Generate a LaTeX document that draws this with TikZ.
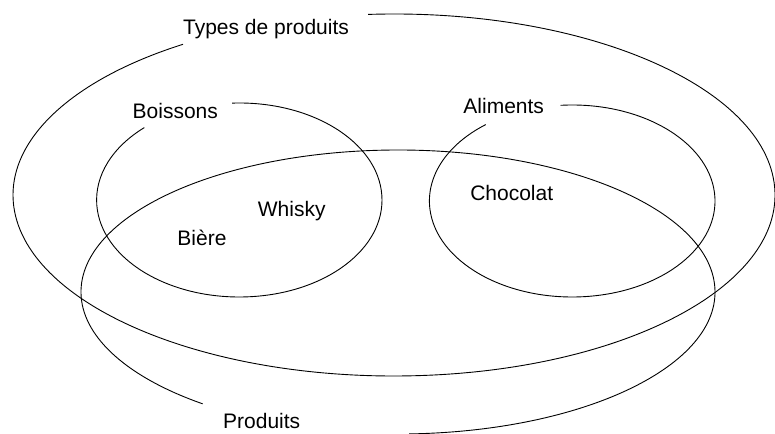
\documentclass[tikz,border=0pt]{standalone}
\usepackage{fontspec}
\setmainfont{Liberation Sans}
\begin{document}
\begin{tikzpicture}[x=1pt,y=1pt,
  setline/.style={draw=black, line width=0.9pt},
  setlabel/.style={inner sep=0pt, anchor=base, font=\fontsize{21}{25}\selectfont}]
\useasboundingbox (0,0) rectangle (775,433);
\fill[white] (0,0) rectangle (775,433);
\clip (0,0) rectangle (775,433);

% Types de produits: open ellipse, gap under its label
\draw[setline] ([shift={(394,238)}]93.91:381 and 181)
  arc[start angle=93.91, end angle=-236.37, x radius=381, y radius=181];

% Boissons
\draw[setline] ([shift={(239.3,233)}]92.93:142.7 and 97)
  arc[start angle=92.93, end angle=-228.26, x radius=142.7, y radius=97];

% Aliments
\draw[setline] ([shift={(572.2,232)}]94.62:142.8 and 96)
  arc[start angle=94.62, end angle=-232.72, x radius=142.8, y radius=96];

% Produits
\draw[setline] ([shift={(398,141)}]-88:317 and 142)
  arc[start angle=-88, end angle=231.97, x radius=317, y radius=142];

% Labels
\node[setlabel] (types)    at (266,398)   {Types de produits};
\node[setlabel] (boissons) at (175.3,314.7) {Boissons};
\node[setlabel] (aliments) at (503.7,319) {Aliments};
\node[setlabel] (produits) at (261.7,4.7) {Produits};
\node[setlabel] (whisky)   at (291.7,216.3) {Whisky};
\node[setlabel] (biere)    at (202,187)   {Bière};
\node[setlabel] (chocolat) at (511.7,232) {Chocolat};
\end{tikzpicture}
\end{document}
